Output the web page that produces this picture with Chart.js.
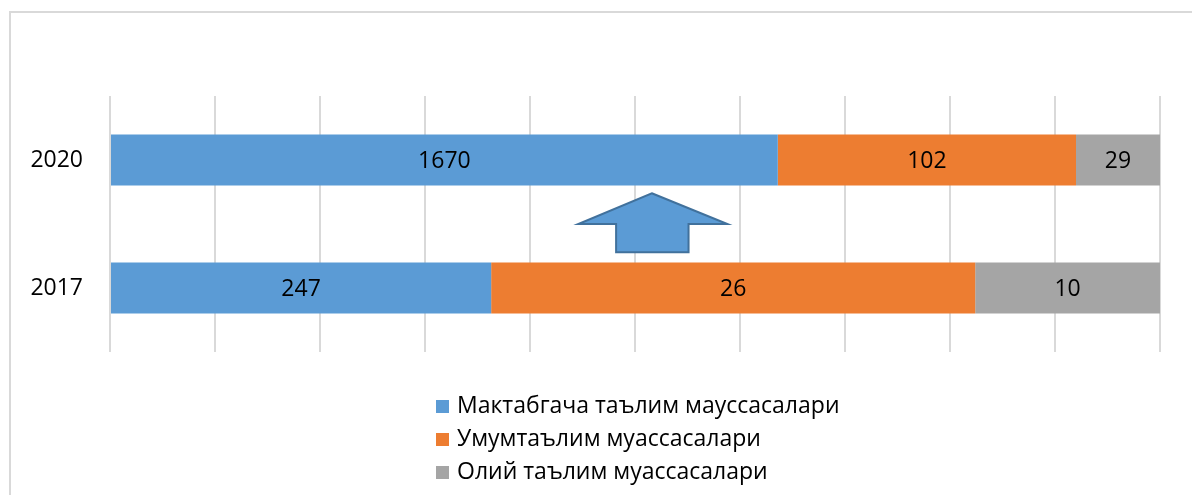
<!DOCTYPE html>
<html>
<head>
<meta charset="utf-8">
<script src="https://cdn.jsdelivr.net/npm/chart.js@4/dist/chart.umd.min.js"></script>
<style>
  body { margin: 0; background: #fff; }
  #wrap { position: relative; width: 1192px; height: 495px; overflow: hidden; }
  #frame { position: absolute; left: 9px; top: 11px; width: 1200px; height: 500px;
           border-top: 2px solid #d9d9d9; border-left: 2px solid #d9d9d9; }
  canvas { position: absolute; left: 0; top: 0; }
  #legend { position: absolute; left: 436px; top: 388px; font-family: "Open Sans", sans-serif;
            font-size: 23px; color: #000; }
  #legend div { height: 33px; line-height: 33px; white-space: nowrap; }
  #legend span { display: inline-block; width: 13px; height: 13px; margin-right: 8px; vertical-align: 0px; }
</style>
</head>
<body>
<div id="wrap">
  <div id="frame"></div>
  <canvas id="c" width="1192" height="495"></canvas>
  <div id="legend"></div>
</div>
<script>
const years = ['2020', '2017'];
const seriesNames = ['Мактабгача таълим мауссасалари', 'Умумтаълим муассасалари', 'Олий таълим муассасалари'];
const colors = ['#5B9BD5', '#ED7D31', '#A5A5A5'];
// bar lengths (share, %) as drawn
const preschoolShare = [63.6, 36.3];
const generalShare = [28.4, 46.1];
const higherShare = [8.0, 17.6];
// numbers printed on the bars
const preschoolCount = [1670, 247];
const generalCount = [102, 26];
const higherCount = [29, 10];

const shares = [preschoolShare, generalShare, higherShare];
const counts = [preschoolCount, generalCount, higherCount];

// block arrow between the bars, in axis units (x: %, y: category index)
const arrow = { tip: 51.6, headL: 44.6, headR: 58.8, shaftL: 48.2, shaftR: 55.1,
                top: 0.26, head: 0.5, bottom: 0.72 };

const barLabels = {
  id: 'barLabels',
  afterDatasetsDraw(chart) {
    const ctx = chart.ctx;
    ctx.save();
    ctx.font = '23px "Open Sans", sans-serif';
    ctx.fillStyle = '#000';
    ctx.textAlign = 'center';
    ctx.textBaseline = 'middle';
    chart.data.datasets.forEach((ds, i) => {
      chart.getDatasetMeta(i).data.forEach((bar, j) => {
        const cx = (bar.x + bar.base) / 2;
        ctx.fillText(String(counts[i][j]), cx, bar.y + 1);
      });
    });
    ctx.restore();
  }
};

const upArrow = {
  id: 'upArrow',
  afterDatasetsDraw(chart) {
    const x = chart.scales.x, y = chart.scales.y;
    const px = v => x.getPixelForValue(v);
    const py = v => y.getPixelForValue(v);
    const ctx = chart.ctx;
    ctx.save();
    ctx.beginPath();
    ctx.moveTo(px(arrow.tip), py(arrow.top));
    ctx.lineTo(px(arrow.headR), py(arrow.head));
    ctx.lineTo(px(arrow.shaftR), py(arrow.head));
    ctx.lineTo(px(arrow.shaftR), py(arrow.bottom));
    ctx.lineTo(px(arrow.shaftL), py(arrow.bottom));
    ctx.lineTo(px(arrow.shaftL), py(arrow.head));
    ctx.lineTo(px(arrow.headL), py(arrow.head));
    ctx.closePath();
    ctx.fillStyle = '#5B9BD5';
    ctx.fill();
    ctx.lineWidth = 2;
    ctx.strokeStyle = '#41719C';
    ctx.stroke();
    ctx.restore();
  }
};

new Chart(document.getElementById('c'), {
  type: 'bar',
  data: {
    labels: years,
    datasets: seriesNames.map((name, i) => ({
      label: name,
      data: shares[i],
      backgroundColor: colors[i],
      borderWidth: 0,
      categoryPercentage: 1,
      barPercentage: 0.4
    }))
  },
  options: {
    indexAxis: 'y',
    responsive: false,
    animation: false,
    layout: { padding: { left: 0, right: 32, top: 96, bottom: 143 } },
    plugins: { legend: { display: false }, tooltip: { enabled: false } },
    scales: {
      x: {
        stacked: true,
        min: 0,
        max: 100,
        ticks: { display: false, stepSize: 10 },
        grid: { color: '#d9d9d9', lineWidth: 2, drawTicks: false },
        border: { display: false }
      },
      y: {
        stacked: true,
        grid: { display: false },
        border: { display: false },
        ticks: { color: '#000', padding: 19, font: { family: '"Open Sans", sans-serif', size: 23 } },
        afterFit(scale) { scale.width = 110; }
      }
    }
  },
  plugins: [barLabels, upArrow]
});

document.getElementById('legend').innerHTML = seriesNames.map((n, i) =>
  '<div><span style="background:' + colors[i] + '"></span>' + n + '</div>').join('');
</script>
</body>
</html>
